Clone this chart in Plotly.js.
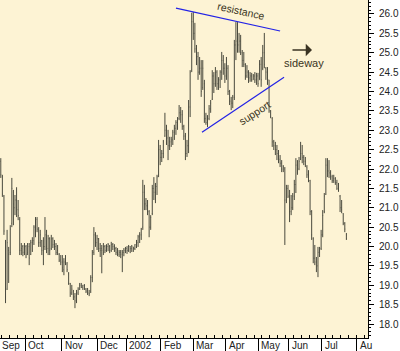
<!DOCTYPE html>
<html>
<head>
<meta charset="utf-8">
<script src="https://cdn.plot.ly/plotly-3.0.1.min.js"></script>
<style>html,body{margin:0;padding:0;background:#fff;}#chart{width:400px;height:351px;}</style>
</head>
<body>
<div id="chart"></div>
<script>
// daily bars, Sep 2001 - Jul 2002 (trading-day index)
const high = [22.28,21.85,21.33,20.17,20.43,19.99,20.55,21.77,21.46,21.33,21.53,21.20,20.76,20.09,20.04,20.09,20.04,20.09,20.09,20.17,
20.24,20.55,20.76,20.76,20.50,20.43,20.17,20.24,20.76,20.43,20.30,20.24,20.30,20.24,20.17,20.09,20.04,19.83,19.78,19.78,
19.70,19.78,19.60,19.34,19.06,19.01,18.88,18.80,18.88,18.95,19.06,19.06,19.01,19.03,18.93,18.93,18.88,19.26,19.91,20.50,
20.37,20.30,20.22,20.09,20.04,20.09,20.04,20.06,20.09,20.04,20.12,20.09,20.06,19.99,19.96,19.91,19.91,19.91,19.96,19.99,
20.01,20.04,20.01,20.04,19.99,20.06,20.17,20.30,20.37,20.48,21.72,21.59,21.25,21.20,20.94,20.81,21.59,21.79,21.64,21.85,
22.75,22.62,22.49,22.75,23.45,23.14,23.01,22.83,22.83,23.01,23.14,23.26,23.34,23.65,23.60,23.52,23.14,22.93,22.75,23.78,
24.55,26.03,26.05,25.77,25.20,25.02,24.89,24.81,24.81,24.30,23.45,23.39,23.65,23.78,24.55,24.50,24.63,24.55,24.37,24.55,
25.02,24.94,24.73,24.89,24.68,24.04,23.86,23.91,25.33,25.79,25.79,25.51,25.46,25.07,25.02,24.73,24.68,24.55,24.50,24.48,
24.45,24.50,24.48,24.48,24.81,24.89,25.20,25.51,24.63,24.63,24.30,23.52,23.34,22.75,22.70,22.62,22.49,22.36,22.23,22.10,
22.05,21.59,21.59,21.46,21.33,21.38,21.72,22.28,22.23,22.31,22.70,22.62,22.36,22.31,22.10,21.97,21.72,20.94,20.24,20.04,
19.73,19.99,19.99,20.43,20.94,21.38,22.28,22.28,22.23,21.97,21.85,21.85,21.79,21.72,21.64,21.33,21.20,20.86,20.63,20.35];
const low = [21.77,21.28,20.30,18.54,18.88,19.06,19.78,20.50,20.55,20.81,20.76,20.68,19.78,19.78,19.75,19.78,19.70,19.78,19.52,19.78,
19.86,20.04,20.24,20.37,19.99,19.99,19.78,19.52,19.91,19.83,19.78,19.78,19.91,19.96,19.91,19.78,19.78,19.60,19.52,19.34,
19.26,19.52,19.34,19.01,18.70,18.75,18.62,18.41,18.54,18.75,18.88,18.93,18.88,18.88,18.80,18.75,18.72,18.80,19.08,19.78,
19.99,19.91,19.86,19.73,19.31,19.78,19.83,19.86,19.88,19.83,19.86,19.91,19.86,19.78,19.75,19.73,19.70,19.34,19.75,19.83,
19.81,19.86,19.83,19.86,19.86,19.91,19.96,19.99,20.09,20.17,20.43,20.94,20.94,20.81,20.24,20.43,20.81,21.20,21.12,21.33,
21.79,22.10,22.18,22.28,22.83,22.62,22.23,22.49,22.57,22.62,22.75,22.88,23.01,23.26,23.19,23.01,22.75,22.23,22.31,22.41,
23.34,24.50,25.33,25.00,24.68,24.30,24.43,23.86,24.04,23.19,23.14,23.08,23.26,23.45,23.78,23.96,24.12,24.04,24.04,24.09,
24.30,24.43,24.22,24.30,23.91,23.65,23.52,23.57,23.78,24.81,25.00,25.00,24.94,24.63,24.63,24.30,24.35,24.22,24.25,24.25,
24.30,24.22,24.17,24.12,24.30,24.12,24.55,24.60,24.30,24.17,23.45,23.31,22.57,22.49,22.36,22.23,22.15,22.05,21.92,21.92,
20.04,21.12,21.25,20.63,20.81,20.94,21.20,21.38,21.85,21.97,22.23,22.15,22.10,22.05,21.77,21.66,20.81,20.17,19.57,19.52,
19.34,19.21,19.73,19.91,20.24,20.86,21.33,21.79,21.77,21.72,21.64,21.64,21.59,21.46,21.41,20.89,20.86,20.55,20.37,20.17];
const open = [22.20,21.80,21.30,20.10,18.90,19.90,19.85,20.60,21.40,21.00,21.20,20.95,20.70,19.90,20.00,19.85,20.00,19.85,20.00,19.80,
20.10,20.15,20.50,20.70,20.45,20.10,20.15,19.90,20.00,20.30,19.95,20.20,19.95,20.20,20.05,20.00,19.85,19.80,19.65,19.60,
19.40,19.60,19.55,19.30,19.05,18.80,18.85,18.70,18.60,18.80,18.90,19.00,18.95,19.00,18.90,18.85,18.80,18.85,19.20,19.85,
20.30,20.10,20.20,19.95,19.95,19.85,20.00,19.90,20.00,20.00,19.90,20.05,20.00,19.95,19.85,19.80,19.85,19.80,19.85,19.90,
19.95,19.90,20.00,19.95,19.99,19.95,20.05,20.10,20.25,20.30,20.50,21.40,21.10,21.05,20.90,20.50,20.85,21.50,21.40,21.55,
21.85,22.50,22.30,22.40,22.85,23.00,22.80,22.60,22.70,22.75,22.95,23.05,23.20,23.30,23.45,23.40,23.10,22.85,22.40,22.60,
23.60,24.55,25.80,25.50,25.10,24.90,24.50,24.60,24.10,24.20,23.30,23.20,23.30,23.55,23.80,24.40,24.20,24.50,24.20,24.30,
24.50,24.80,24.60,24.40,24.60,24.00,23.75,23.70,23.85,25.20,25.30,25.20,25.30,25.00,24.80,24.70,24.40,24.50,24.35,24.40,
24.30,24.40,24.30,24.40,24.30,24.70,24.60,25.00,24.60,24.50,24.30,23.50,23.30,22.70,22.60,22.50,22.40,22.25,22.15,22.00,
22.00,21.20,21.50,21.30,20.90,21.00,21.30,21.60,22.10,22.00,22.25,22.40,22.30,22.20,22.05,21.85,21.70,20.90,20.20,19.70,
19.60,19.50,19.85,19.95,20.30,20.90,21.35,22.10,21.95,21.90,21.80,21.70,21.75,21.65,21.50,21.30,21.00,20.85,20.60,20.30];
const close = [21.85,21.35,20.40,18.70,20.10,19.80,20.45,21.50,21.10,21.20,21.00,20.80,19.90,19.95,19.85,20.00,19.80,20.05,19.70,20.10,
20.15,20.50,20.70,20.45,20.10,20.30,19.90,20.00,20.30,20.00,20.20,19.90,20.20,20.05,20.00,19.85,19.90,19.65,19.60,19.45,
19.60,19.55,19.40,19.05,18.80,18.90,18.70,18.60,18.80,18.90,19.00,18.95,19.00,18.90,18.85,18.80,18.78,19.20,19.85,20.30,
20.10,20.20,19.95,19.90,19.90,20.00,19.90,20.00,20.05,19.90,20.05,20.00,19.95,19.85,19.80,19.85,19.80,19.85,19.90,19.95,
19.90,20.00,19.95,20.00,19.95,20.05,20.10,20.25,20.30,20.45,21.40,21.10,21.05,20.90,20.50,20.75,21.50,21.40,21.55,21.80,
22.50,22.30,22.40,22.70,23.00,22.80,22.60,22.70,22.75,22.95,23.05,23.20,23.30,23.45,23.40,23.10,22.85,22.40,22.60,23.60,
24.50,25.80,25.50,25.10,24.90,24.50,24.60,24.00,24.60,23.30,23.20,23.30,23.55,23.70,24.40,24.20,24.50,24.20,24.30,24.50,
24.80,24.60,24.40,24.60,24.00,23.75,23.70,23.85,25.20,25.30,25.20,25.30,25.00,24.80,24.70,24.40,24.50,24.35,24.40,24.30,
24.40,24.30,24.40,24.20,24.70,24.30,25.00,24.70,24.50,24.30,23.50,23.35,22.70,22.60,22.50,22.40,22.25,22.15,22.00,22.05,
21.20,21.50,21.30,20.90,21.00,21.30,21.60,22.10,22.00,22.20,22.40,22.30,22.20,22.10,21.85,21.70,20.90,20.30,19.70,19.60,
19.50,19.85,19.90,20.30,20.80,21.30,22.10,21.95,21.90,21.80,21.70,21.75,21.65,21.50,21.45,21.00,20.95,20.60,20.45,20.20];
const day = high.map((_, i) => i);

// month boundaries (trading-day index) and their labels
const monthTicks = [-2.5, 15.5, 38.5, 61, 79.5, 101.5, 122, 142.5, 163, 182.5, 203.5, 225.5];
const monthLabels = ['Sep','Oct','Nov','Dec','2002','Feb','Mar','Apr','May','Jun','Jul','Au'];

// hand-drawn trend lines
const resistanceX = [111, 177];
const resistanceY = [26.15, 25.56];
const supportX = [127.5, 179.5];
const supportY = [22.95, 24.37];

const textColor = '#3a3322';
const xRange = [-0.5, 232.7];
const fontFam = 'Liberation Sans, Arial, sans-serif';

const traces = [
  {type:'ohlc', x:day, open:open, high:high, low:low, close:close,
   increasing:{line:{color:'#4a4a3e', width:1}}, decreasing:{line:{color:'#4a4a3e', width:1}},
   tickwidth:0.25, hoverinfo:'skip', showlegend:false},
  {type:'scatter', mode:'lines', x:resistanceX, y:resistanceY, line:{color:'#2222e6', width:1.2}, showlegend:false, hoverinfo:'skip'},
  {type:'scatter', mode:'lines', x:supportX, y:supportY, line:{color:'#2222e6', width:1.2}, showlegend:false, hoverinfo:'skip'}
];

const annotations = monthLabels.map((t, k) => {
  const inRange = monthTicks[k] >= xRange[0];
  return {
    text: t, xref: inRange ? 'x' : 'paper', x: inRange ? monthTicks[k] : 0,
    yref: 'paper', y: 0, xanchor: 'left', yanchor: 'top',
    xshift: inRange ? 1 : 0, yshift: 0, showarrow: false,
    font: {family: fontFam, size: 10, color: '#222'}
  };
});
annotations.push(
  {text:'resistance', x:152.5, y:26.07, xref:'x', yref:'y', showarrow:false, textangle:12.5,
   font:{family:fontFam, size:10.5, color:textColor}},
  {text:'support', x:160.5, y:23.45, xref:'x', yref:'y', showarrow:false, textangle:-33,
   font:{family:fontFam, size:10.5, color:textColor}},
  {text:'sideway', x:192.2, y:24.74, xref:'x', yref:'y', showarrow:false,
   font:{family:fontFam, size:11, color:textColor}},
  {text:'', x:197.2, y:25.07, xref:'x', yref:'y', showarrow:true, ax:-21, ay:0,
   arrowhead:1, arrowsize:1.3, arrowwidth:1.6, arrowcolor:textColor}
);

const layout = {
  width:400, height:351,
  margin:{l:0, r:32, t:0, b:13, pad:0},
  paper_bgcolor:'#ffffff', plot_bgcolor:'#fdf3d4',
  showlegend:false,
  xaxis:{type:'linear', range:xRange, tickmode:'array', tickvals:monthTicks, showticklabels:false,
    ticks:'outside', ticklen:13, tickcolor:'#000', tickwidth:1,
    showline:true, linecolor:'#000', linewidth:1, showgrid:false, zeroline:false, fixedrange:true,
    rangeslider:{visible:false},
    minor:{tickmode:'linear', tick0:0.5, dtick:5, ticks:'inside', ticklen:3, tickcolor:'#000', showgrid:false}},
  yaxis:{side:'right', range:[17.64, 26.36], tickmode:'linear', tick0:18, dtick:0.5, tickformat:'.1f',
    ticks:'outside', ticklen:5, tickcolor:'#000', showline:true, linecolor:'#000', linewidth:1,
    showgrid:false, zeroline:false, ticklabelstandoff:3,
    tickfont:{family:fontFam, size:10, color:'#222'},
    minor:{tickmode:'linear', dtick:0.1, ticks:'outside', ticklen:2, tickcolor:'#000', showgrid:false}},
  annotations: annotations
};

Plotly.newPlot('chart', traces, layout, {displayModeBar:false, staticPlot:true});
</script>
</body>
</html>
